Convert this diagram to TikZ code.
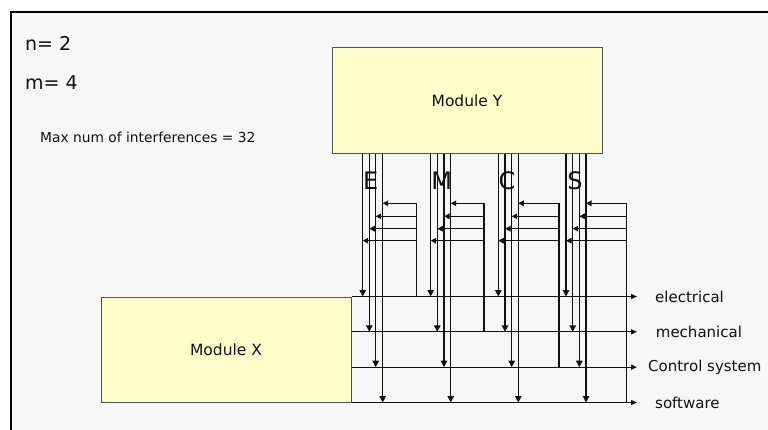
\documentclass[tikz,border=0pt]{standalone}
\usepackage{fontspec}
\setmainfont{DejaVu Sans}
\usetikzlibrary{arrows.meta}
\definecolor{bg}{HTML}{F7F7F7}
\definecolor{modfill}{HTML}{FFFFCC}
\definecolor{modline}{HTML}{505050}
\definecolor{ink}{HTML}{111111}
\begin{document}
\begin{tikzpicture}[x=1pt,y=-1pt,
  module/.style={draw=modline, line width=1pt, fill=modfill, inner sep=0pt,
    text=ink, font=\fontsize{15.5}{18}\selectfont},
  sig/.style={draw=ink, line width=1.3pt, -{Triangle[length=6.5pt,width=6.5pt]}},
  fb/.style={draw=ink, line width=1.3pt, -{Triangle[length=5.5pt,width=5.5pt]}},
  outarrow/.style={draw=ink, line width=1.3pt, -{Triangle[length=6pt,width=5pt]}},
  plainline/.style={draw=ink, line width=1.3pt},
  lbl/.style={anchor=west, inner sep=0pt, text=ink, font=\fontsize{15}{18}\selectfont},
  letter/.style={inner sep=0pt, text=ink, font=\fontsize{24}{28}\selectfont},
  info/.style={anchor=west, inner sep=0pt, text=ink}]
\useasboundingbox (0,0) rectangle (768,430);
\fill[white] (0,0) rectangle (768,430);
\draw[line width=2pt, fill=bg] (11,12) rectangle (790,450);

% texts
\node[info, font=\fontsize{19}{22}\selectfont] (n) at (25,43) {n= 2};
\node[info, font=\fontsize{19}{22}\selectfont] (m) at (25,83) {m= 4};
\node[info, font=\fontsize{13.8}{16}\selectfont] (max) at (40,137) {Max num of interferences = 32};

% modules
\node[module, minimum width=270pt, minimum height=106pt] (Y) at (467,101) {Module Y};
\node[module, minimum width=250pt, minimum height=105pt] (X) at (226,349.5) {Module X};

% output lines
\path (X.north east) -- (X.south east)
  coordinate[pos=0] (le) coordinate[pos=1/3] (lm)
  coordinate[pos=2/3] (lc) coordinate[pos=1] (ls);
\node[lbl] (elec) at (655,297) {electrical};
\node[lbl] (mech) at (655.7,332) {mechanical};
\node[lbl] (ctrl) at (648,367) {Control system};
\node[lbl] (soft) at (655,403) {software};
\coordinate (te) at (le -| 637,0);
\coordinate (tm) at (lm -| 637,0);
\coordinate (tc) at (lc -| 637,0);
\coordinate (ts) at (ls -| 637,0);
\draw[outarrow] (le) -- (te);
\draw[outarrow] (lm) -- (tm);
\draw[outarrow] (lc) -- (tc);
\draw[outarrow] (ls) -- (ts);

% letters
\node[letter] (E) at (370.7,180.7) {E};
\node[letter] (M) at (441.7,180.7) {M};
\node[letter] (C) at (507,180.7) {C};
\node[letter] (S) at (575,180.7) {S};

% vertical signals from Module Y
\foreach \a/\b/\c/\d in {362.7/369.3/375.7/382.7, 430.7/437.3/444/450.7,
                          498.3/505/511.7/518.3, 566/572.7/579.3/586}{
  \draw[sig] (\a,0 |- Y.south) -- (\a,0 |- le);
  \draw[sig] (\b,0 |- Y.south) -- (\b,0 |- lm);
  \draw[sig] (\c,0 |- Y.south) -- (\c,0 |- lc);
  \draw[sig] (\d,0 |- Y.south) -- (\d,0 |- ls);
}

% feedback loops
\foreach \r/\t/\a/\b/\c/\d in {416.7/le/362.7/369.3/375.7/382.7,
                               484/lm/430.7/437.3/444/450.7,
                               559/lc/498.3/505/511.7/518.3,
                               626.7/ls/566/572.7/579.3/586}{
  \coordinate (top) at (\r,203.3);
  \draw[plainline] (\r,0 |- \t) -- (top);
  \draw[fb] (top) -- (\d,203.3);
  \draw[fb] (\r,216.3) -- (\c,216.3);
  \draw[fb] (\r,228.7) -- (\b,228.7);
  \draw[fb] (\r,240.7) -- (\a,240.7);
}
\end{tikzpicture}
\end{document}
